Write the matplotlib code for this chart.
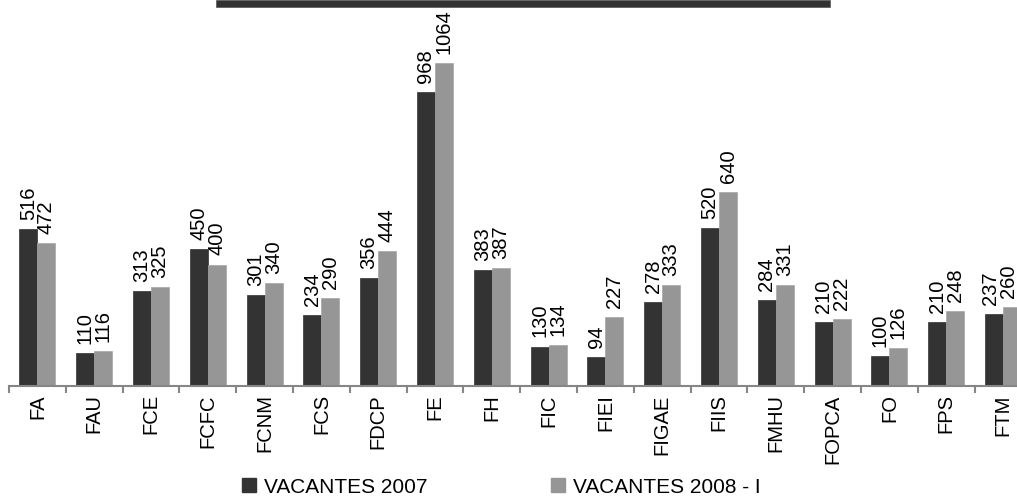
import matplotlib
matplotlib.use("Agg")
import matplotlib.pyplot as plt
from matplotlib.patches import Patch, Rectangle
import numpy as np

plt.rcParams['font.family'] = ['Liberation Sans', 'DejaVu Sans']

categories = ["FA", "FAU", "FCE", "FCFC", "FCNM", "FCS", "FDCP", "FE", "FH", "FIC",
              "FIEI", "FIGAE", "FIIS", "FMHU", "FOPCA", "FO", "FPS", "FTM"]
vac_2007 = [516, 110, 313, 450, 301, 234, 356, 968, 383, 130, 94, 278, 520, 284, 210, 100, 210, 237]
vac_2008 = [472, 116, 325, 400, 340, 290, 444, 1064, 387, 134, 227, 333, 640, 331, 222, 126, 248, 260]
series_names = ["VACANTES 2007", "VACANTES 2008 - I"]

dark = "#333333"
light = "#969696"

W, H = 1017, 497
fig = plt.figure(figsize=(W / 100, H / 100), dpi=100)

ax_left = 9 / W
ax_width = 18 * 56.8 / W
ax_bottom = 111 / H
ax_height = 386 / H
ax = fig.add_axes([ax_left, ax_bottom, ax_width, ax_height])

x = np.arange(len(categories))
bw = 0.317
b1 = ax.bar(x - bw / 2, vac_2007, width=bw, color=dark, edgecolor=dark, linewidth=0.5)
b2 = ax.bar(x + bw / 2, vac_2008, width=bw, color=light, edgecolor="#a6a6a6", linewidth=0.5)

ax.set_xlim(-0.5, len(categories) - 0.5)
ax.set_ylim(0, 1271)

for bars, vals in ((b1, vac_2007), (b2, vac_2008)):
    for i, (r, v) in enumerate(zip(bars, vals)):
        cx = r.get_x() + r.get_width() / 2
        dx = -2.2 if i == len(categories) - 1 else 0
        ax.annotate(str(v), (cx, r.get_height()),
                    xytext=(dx, 6.5), textcoords="offset points",
                    ha="center", va="bottom", rotation=90, fontsize=14.5,
                    color="#000000", annotation_clip=False)

for s in ("top", "right", "left"):
    ax.spines[s].set_visible(False)
ax.spines["bottom"].set_color("#868686")
ax.spines["bottom"].set_linewidth(1.5)
ax.set_yticks([])

ax.set_xticks(x)
ax.set_xticklabels(categories, rotation=90, fontsize=14.5)
ax.tick_params(axis="x", which="major", length=0, pad=6)
ax.set_xticks(np.arange(-0.5, len(categories), 1.0), minor=True)
ax.tick_params(axis="x", which="minor", length=5, width=1.5, color="#868686", direction="out")

# top dark band
fig.add_artist(Rectangle((216 / W, 1 - 7 / H), (830 - 216) / W, 7 / H,
                         transform=fig.transFigure, facecolor=dark, edgecolor="#555555",
                         linewidth=0.5))

handles = [Patch(facecolor=dark, edgecolor=dark), Patch(facecolor=light, edgecolor=light)]
fig.legend(handles, series_names, loc="center", bbox_to_anchor=(0.493, 0.02),
           ncol=2, frameon=False, fontsize=15, handlelength=0.67, handleheight=0.67,
           handletextpad=0.4, columnspacing=5.9, borderpad=0, borderaxespad=0)

fig.savefig("out.png", dpi=100)
